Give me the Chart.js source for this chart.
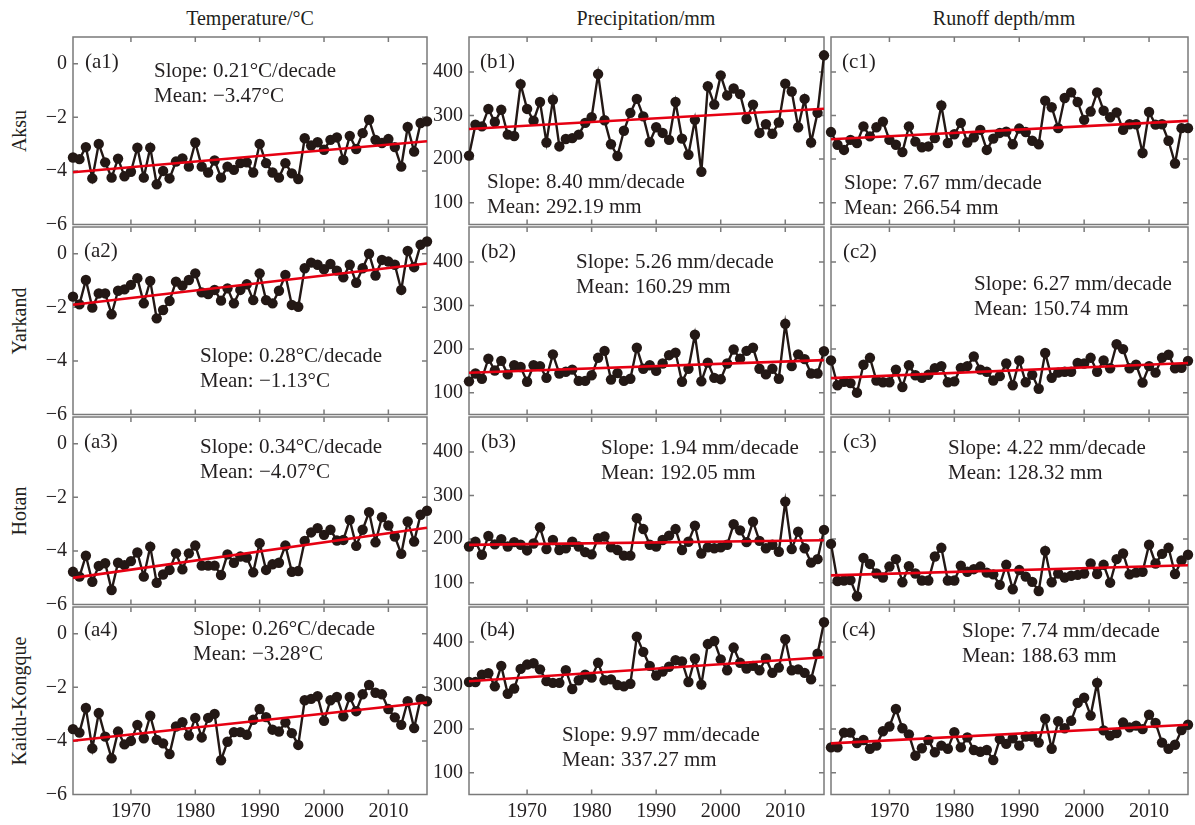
<!DOCTYPE html>
<html>
<head>
<meta charset="utf-8">
<title>Temperature, precipitation and runoff depth, 1961–2016</title>
<script src="https://cdn.jsdelivr.net/npm/chart.js@4.4.1/dist/chart.umd.min.js"></script>
<style>
  html, body { margin: 0; padding: 0; background: #fff; }
  #wrap {
    position: relative; width: 1195px; height: 825px; overflow: hidden;
    font-family: "Liberation Serif", "Times New Roman", serif; color: #231f20;
  }
  #wrap canvas { position: absolute; left: 0; top: 0; }
  .col-title {
    position: absolute; top: 6px; font-size: 20px; line-height: 24px;
    transform: translateX(-50%); white-space: nowrap;
  }
  .row-title {
    position: absolute; left: 19px; font-size: 20px; line-height: 24px;
    transform: translate(-50%, -50%) rotate(-90deg); white-space: nowrap;
  }
</style>
</head>
<body>
<div id="wrap">
  <div class="col-title" style="left:250px">Temperature/°C</div>
  <div class="col-title" style="left:646px">Precipitation/mm</div>
  <div class="col-title" style="left:1004px">Runoff depth/mm</div>
  <div class="row-title" style="top:131px">Aksu</div>
  <div class="row-title" style="top:321px">Yarkand</div>
  <div class="row-title" style="top:511px">Hotan</div>
  <div class="row-title" style="top:701px">Kaidu-Kongque</div>
</div>
<script>
// ---- data -------------------------------------------------------------
const YEARS = [1961,1962,1963,1964,1965,1966,1967,1968,1969,1970,
  1971,1972,1973,1974,1975,1976,1977,1978,1979,1980,
  1981,1982,1983,1984,1985,1986,1987,1988,1989,1990,
  1991,1992,1993,1994,1995,1996,1997,1998,1999,2000,
  2001,2002,2003,2004,2005,2006,2007,2008,2009,2010,
  2011,2012,2013,2014,2015,2016];

const BASINS = ['Aksu', 'Yarkand', 'Hotan', 'Kaidu-Kongque'];

// annual mean temperature (°C)
const AKSU_TEMP = [-3.50,-3.56,-3.11,-4.28,-2.99,-3.68,-4.25,-3.54,-4.20,-4.03,
  -3.13,-4.25,-3.13,-4.50,-4.00,-4.28,-3.65,-3.53,-3.84,-2.94,
  -3.84,-4.06,-3.61,-4.25,-3.84,-3.96,-3.71,-3.68,-4.06,-2.99,
  -3.71,-4.06,-4.25,-3.71,-4.09,-4.30,-2.78,-3.05,-2.93,-3.21,
  -2.84,-2.75,-3.59,-2.69,-3.18,-2.59,-2.09,-2.84,-2.96,-2.81,
  -3.11,-3.84,-2.36,-3.28,-2.21,-2.15];
const YARKAND_TEMP = [-1.60,-1.89,-0.98,-2.01,-1.48,-1.48,-2.26,-1.38,-1.33,-1.16,
  -0.91,-1.85,-1.01,-2.41,-2.10,-1.76,-1.04,-1.19,-0.98,-0.73,
  -1.44,-1.50,-1.35,-1.75,-1.29,-1.85,-1.35,-1.14,-1.73,-0.73,
  -1.73,-1.85,-1.38,-0.79,-1.91,-1.98,-0.54,-0.33,-0.41,-0.58,
  -0.38,-0.63,-0.88,-0.41,-1.08,-0.54,0.00,-0.81,-0.23,-0.29,
  -0.41,-1.35,0.11,-0.50,0.34,0.46];
const HOTAN_TEMP = [-4.78,-4.96,-4.18,-5.15,-4.56,-4.46,-5.46,-4.44,-4.53,-4.38,
  -4.06,-4.96,-3.84,-5.19,-4.88,-4.71,-4.09,-4.69,-4.09,-3.80,
  -4.55,-4.55,-4.55,-4.90,-4.13,-4.44,-4.21,-4.25,-4.80,-3.71,
  -4.71,-4.50,-4.44,-3.80,-4.78,-4.75,-3.63,-3.31,-3.15,-3.40,
  -3.21,-3.61,-3.59,-2.84,-3.81,-3.21,-2.55,-3.68,-2.74,-3.05,
  -3.46,-4.11,-2.90,-3.65,-2.65,-2.50];
const KAIDU_TEMP = [-3.56,-3.69,-2.77,-4.28,-2.96,-3.84,-4.65,-3.65,-4.13,-4.00,
  -3.40,-3.90,-3.06,-3.96,-4.09,-4.49,-3.46,-3.30,-3.80,-3.14,
  -3.87,-3.14,-2.99,-4.72,-4.03,-3.67,-3.67,-3.77,-3.21,-2.81,
  -3.11,-3.58,-3.65,-3.31,-3.71,-4.15,-2.48,-2.43,-2.33,-3.25,
  -2.48,-2.36,-3.08,-2.36,-2.89,-2.26,-1.91,-2.20,-2.26,-2.81,
  -3.12,-3.40,-2.52,-3.52,-2.43,-2.52];

// annual precipitation (mm)
const AKSU_PRECIP = [208,279,275,315,285,313,256,253,372,315,
  288,331,238,336,229,246,248,256,283,296,
  395,289,234,207,265,306,338,298,239,273,
  260,244,331,247,210,290,171,367,325,392,
  346,362,349,292,325,260,280,258,284,373,
  355,273,338,238,306,438];
const YARKAND_PRECIP = [126,144,132,178,151,173,142,163,159,125,
  163,161,134,188,144,148,153,127,127,140,
  180,196,130,145,127,132,203,155,163,150,
  167,186,192,125,155,233,126,169,134,131,
  167,199,178,196,203,155,142,155,132,258,
  161,188,177,144,144,195];
const HOTAN_PRECIP = [183,194,164,207,188,200,183,193,187,174,
  190,227,177,198,175,179,194,183,170,165,
  202,206,181,175,162,162,248,223,187,183,
  198,208,223,175,194,231,167,181,179,181,
  187,234,220,193,240,196,179,187,171,286,
  177,217,179,146,154,221];
const KAIDU_PRECIP = [308,308,325,328,298,345,281,293,338,348,
  351,337,310,306,306,335,292,312,325,318,
  352,312,314,301,298,304,412,377,345,323,
  332,343,358,355,308,362,302,395,402,360,
  335,387,352,339,345,335,362,329,341,406,
  335,337,329,314,373,445];

// annual runoff depth (mm)
const AKSU_RUNOFF = [262,233,221,244,237,275,252,273,286,244,
  233,216,275,240,227,229,248,323,237,257,
  283,238,250,267,221,247,260,263,234,270,
  262,242,234,334,319,271,340,353,331,290,
  309,353,311,296,307,267,280,280,214,308,
  279,280,242,190,271,271];
const YARKAND_RUNOFF = [174,117,125,122,100,164,180,128,124,124,
  153,113,163,140,134,141,156,161,124,126,
  157,161,183,153,148,128,138,167,117,174,
  124,141,109,191,134,146,148,148,168,167,
  180,148,174,156,211,200,156,164,123,161,
  146,180,187,156,157,173];
const HOTAN_RUNOFF = [189,104,105,106,69,157,143,121,112,137,
  154,101,138,121,105,105,160,180,105,105,
  139,125,131,137,123,119,95,141,85,129,
  114,102,81,173,101,121,112,116,118,121,
  144,120,141,100,154,167,119,123,125,187,
  144,166,180,120,151,164];
const KAIDU_RUNOFF = [158,158,192,192,168,175,155,162,195,206,
  246,202,188,139,156,175,147,162,155,193,
  158,181,152,148,152,129,177,166,179,162,
  183,183,169,224,155,218,202,219,260,272,
  231,306,197,185,191,215,204,208,200,233,
  214,169,155,164,198,210];

// linear trends (per decade) and multi-year means
const TEMP_SLOPE = [0.21, 0.28, 0.34, 0.26];
const TEMP_MEAN = [-3.47, -1.13, -4.07, -3.28];
const PRECIP_SLOPE = [8.40, 5.26, 1.94, 9.97];
const PRECIP_MEAN = [292.19, 160.29, 192.05, 337.27];
const RUNOFF_SLOPE = [7.67, 6.27, 4.22, 7.74];
const RUNOFF_MEAN = [266.54, 150.74, 128.32, 188.63];

// axis ticks
const YEAR_TICKS = [1970, 1980, 1990, 2000, 2010];
const TEMP_TICKS = [-6, -4, -2, 0];
const DEPTH_TICKS = [100, 200, 300, 400];

// ---- layout & style ---------------------------------------------------
const W = 1195, H = 825;
const COLS = [{ l: 73, r: 427 }, { l: 469, r: 824 }, { l: 831, r: 1188 }];
const ROW_TOP = [37, 227, 417, 607];
const ROW_H = 187.5;
const YW = 50, XH = 32, TICK_LEN = 5;
const FONT = '"Liberation Serif", "Times New Roman", serif';
const INK = '#231f20';
const FRAME = '#7a7a7a';
const MARK = '#231815';
const TREND = '#e60012';

// tag / annotation offsets inside each panel, [row][col]
const TEXT_POS = [
  [{ tag: [12, 25], txt: [81, 34] }, { tag: [11, 25], txt: [18, 145] }, { tag: [11, 25], txt: [13, 146] }],
  [{ tag: [11, 24], txt: [127, 129] }, { tag: [12, 25], txt: [107, 35] }, { tag: [12, 25], txt: [143, 57] }],
  [{ tag: [11, 25], txt: [127, 30] }, { tag: [12, 25], txt: [132, 31] }, { tag: [12, 25], txt: [117, 31] }],
  [{ tag: [11, 23], txt: [120, 22] }, { tag: [11, 23], txt: [93, 128] }, { tag: [11, 23], txt: [131, 24] }]
];

const minus = (v, d) => (v < 0 ? '\u2212' : '') + Math.abs(v).toFixed(d);

const VARS = [
  { key: 'a', series: [AKSU_TEMP, YARKAND_TEMP, HOTAN_TEMP, KAIDU_TEMP],
    slope: TEMP_SLOPE, mean: TEMP_MEAN, min: -6, max: 1, ticks: TEMP_TICKS,
    showY: true, tickFmt: v => minus(v, 0),
    slopeText: s => 'Slope: ' + s.toFixed(2) + '°C/decade',
    meanText: m => 'Mean: ' + minus(m, 2) + '°C' },
  { key: 'b', series: [AKSU_PRECIP, YARKAND_PRECIP, HOTAN_PRECIP, KAIDU_PRECIP],
    slope: PRECIP_SLOPE, mean: PRECIP_MEAN, min: 50, max: 480, ticks: DEPTH_TICKS,
    showY: true, tickFmt: v => String(v),
    slopeText: s => 'Slope: ' + s.toFixed(2) + ' mm/decade',
    meanText: m => 'Mean: ' + m.toFixed(2) + ' mm' },
  { key: 'c', series: [AKSU_RUNOFF, YARKAND_RUNOFF, HOTAN_RUNOFF, KAIDU_RUNOFF],
    slope: RUNOFF_SLOPE, mean: RUNOFF_MEAN, min: 50, max: 480, ticks: DEPTH_TICKS,
    showY: false, tickFmt: v => String(v),
    slopeText: s => 'Slope: ' + s.toFixed(2) + ' mm/decade',
    meanText: m => 'Mean: ' + m.toFixed(2) + ' mm' }
];

// frame, inward tick marks on all four sides, panel tag and trend note
const panelDecor = {
  id: 'panelDecor',
  beforeDatasetsDraw(chart, args, opts) {
    const { ctx, chartArea: a } = chart;
    const x = chart.scales.x, y = chart.scales.y;
    ctx.save();
    ctx.strokeStyle = FRAME;
    ctx.lineWidth = 1.5;
    ctx.strokeRect(a.left, a.top, a.right - a.left, a.bottom - a.top);
    ctx.beginPath();
    x.ticks.forEach(t => {
      const px = x.getPixelForValue(t.value);
      ctx.moveTo(px, a.top); ctx.lineTo(px, a.top + TICK_LEN);
      ctx.moveTo(px, a.bottom); ctx.lineTo(px, a.bottom - TICK_LEN);
    });
    y.ticks.forEach(t => {
      const py = y.getPixelForValue(t.value);
      if (py > a.bottom - 2 || py < a.top + 2) return;
      ctx.moveTo(a.left, py); ctx.lineTo(a.left + TICK_LEN, py);
      ctx.moveTo(a.right, py); ctx.lineTo(a.right - TICK_LEN, py);
    });
    ctx.stroke();
    ctx.restore();
  },
  afterDraw(chart, args, opts) {
    const { ctx, chartArea: a } = chart;
    ctx.save();
    ctx.fillStyle = INK;
    ctx.font = '21px ' + FONT;
    ctx.textAlign = 'left';
    ctx.textBaseline = 'middle';
    ctx.fillText(opts.tag, a.left + opts.tagPos[0], a.top + opts.tagPos[1]);
    ctx.fillText(opts.lines[0], a.left + opts.txtPos[0], a.top + opts.txtPos[1]);
    ctx.fillText(opts.lines[1], a.left + opts.txtPos[0], a.top + opts.txtPos[1] + 25);
    ctx.restore();
  }
};

const wrap = document.getElementById('wrap');
const FIRST = YEARS[0], LAST = YEARS[YEARS.length - 1];
const MID_YEAR = (FIRST + LAST) / 2;

VARS.forEach((v, col) => {
  v.series.forEach((values, row) => {
    const c = COLS[col];
    const top = ROW_TOP[row], bottom = top + ROW_H;
    const slope = v.slope[row], mean = v.mean[row];
    const trendAt = yr => mean + slope / 10 * (yr - MID_YEAR);

    const canvas = document.createElement('canvas');
    canvas.width = W; canvas.height = H;
    canvas.style.width = W + 'px'; canvas.style.height = H + 'px';
    wrap.appendChild(canvas);

    new Chart(canvas, {
      type: 'line',
      data: {
        datasets: [
          {
            label: BASINS[row] + ' trend',
            data: [{ x: FIRST, y: trendAt(FIRST) }, { x: LAST, y: trendAt(LAST) }],
            borderColor: TREND, borderWidth: 2.6, pointRadius: 0,
            clip: false, order: 0
          },
          {
            label: BASINS[row],
            data: YEARS.map((yr, i) => ({ x: yr, y: values[i] })),
            borderColor: MARK, borderWidth: 2.4, tension: 0,
            pointRadius: 5.2, pointBackgroundColor: MARK, pointBorderWidth: 0,
            clip: false, order: 1
          }
        ]
      },
      options: {
        responsive: false,
        animation: false,
        events: [],
        layout: { padding: { left: c.l - YW, top: top, right: W - c.r, bottom: H - bottom - XH } },
        scales: {
          x: {
            type: 'linear', position: 'bottom', min: FIRST, max: LAST, bounds: 'data',
            afterBuildTicks: s => { s.ticks = YEAR_TICKS.map(t => ({ value: t })); },
            afterFit: s => { s.height = XH; },
            grid: { display: false, drawTicks: false },
            border: { display: false },
            ticks: {
              display: row === 3, padding: 5, autoSkip: false, maxRotation: 0,
              color: INK, font: { family: FONT, size: 20 },
              callback: t => String(t)
            }
          },
          y: {
            type: 'linear', position: 'left', min: v.min, max: v.max, bounds: 'data',
            afterBuildTicks: s => { s.ticks = v.ticks.map(t => ({ value: t })); },
            afterFit: s => { s.width = YW; },
            grid: { display: false, drawTicks: false },
            border: { display: false },
            ticks: {
              display: v.showY, padding: 6,
              color: INK, font: { family: FONT, size: 20 },
              callback: v.tickFmt
            }
          }
        },
        plugins: {
          legend: { display: false },
          tooltip: { enabled: false },
          panelDecor: {
            tag: '(' + v.key + (row + 1) + ')',
            tagPos: TEXT_POS[row][col].tag,
            txtPos: TEXT_POS[row][col].txt,
            lines: [v.slopeText(slope), v.meanText(mean)]
          }
        }
      },
      plugins: [panelDecor]
    });
  });
});
</script>
</body>
</html>
